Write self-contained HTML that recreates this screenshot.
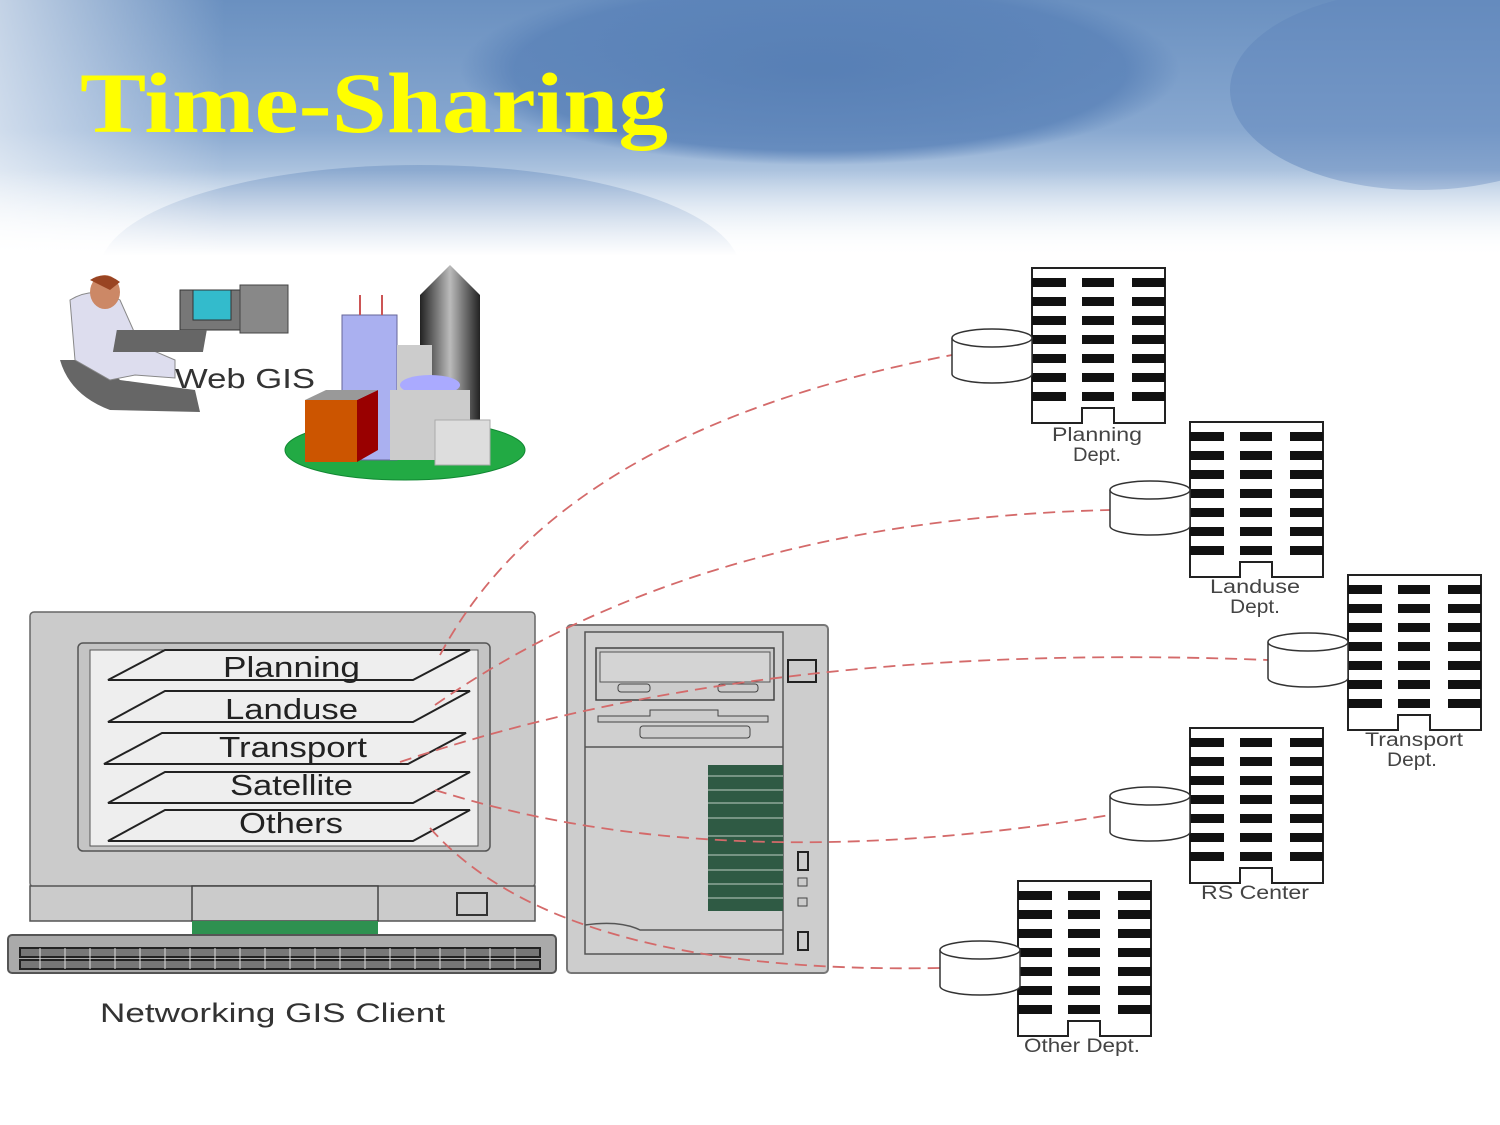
<!DOCTYPE html>
<html><head><meta charset="utf-8"><style>
html,body{margin:0;padding:0;width:1500px;height:1125px;overflow:hidden;background:#fff}
svg{display:block}
</style></head><body>
<svg width="1500" height="1125" viewBox="0 0 1500 1125" xmlns="http://www.w3.org/2000/svg">
<defs>
<clipPath id="hc"><rect x="0" y="0" width="1500" height="255"/></clipPath>
<linearGradient id="hdr" x1="0" y1="0" x2="0" y2="1">
<stop offset="0" stop-color="#6a90c0"/><stop offset="0.5" stop-color="#88a8d0"/><stop offset="0.78" stop-color="#c8d8ea"/><stop offset="1" stop-color="#ffffff"/>
</linearGradient>
<linearGradient id="fade" x1="0" y1="0" x2="0" y2="1">
<stop offset="0" stop-color="#fff" stop-opacity="0"/><stop offset="1" stop-color="#fff" stop-opacity="1"/>
</linearGradient>
<linearGradient id="hl" x1="0" y1="0" x2="1" y2="0">
<stop offset="0" stop-color="#fff" stop-opacity="0.6"/><stop offset="0.15" stop-color="#fff" stop-opacity="0"/>
</linearGradient>
<radialGradient id="blob" cx="0.5" cy="0.5" r="0.5">
<stop offset="0" stop-color="#4f78b0"/><stop offset="0.85" stop-color="#5a82b8"/><stop offset="1" stop-color="#5a82b8" stop-opacity="0"/>
</radialGradient>
<linearGradient id="tower" x1="0" y1="0" x2="1" y2="0">
<stop offset="0" stop-color="#222"/><stop offset="0.5" stop-color="#bbb"/><stop offset="1" stop-color="#222"/>
</linearGradient>
<g id="bld">
<rect x="0" y="0" width="133" height="155" fill="#fff" stroke="#222" stroke-width="2"/>
<g fill="#111">
<rect x="0" y="10" width="34" height="9"/><rect x="50" y="10" width="32" height="9"/><rect x="100" y="10" width="33" height="9"/>
<rect x="0" y="29" width="34" height="9"/><rect x="50" y="29" width="32" height="9"/><rect x="100" y="29" width="33" height="9"/>
<rect x="0" y="48" width="34" height="9"/><rect x="50" y="48" width="32" height="9"/><rect x="100" y="48" width="33" height="9"/>
<rect x="0" y="67" width="34" height="9"/><rect x="50" y="67" width="32" height="9"/><rect x="100" y="67" width="33" height="9"/>
<rect x="0" y="86" width="34" height="9"/><rect x="50" y="86" width="32" height="9"/><rect x="100" y="86" width="33" height="9"/>
<rect x="0" y="105" width="34" height="9"/><rect x="50" y="105" width="32" height="9"/><rect x="100" y="105" width="33" height="9"/>
<rect x="0" y="124" width="34" height="9"/><rect x="50" y="124" width="32" height="9"/><rect x="100" y="124" width="33" height="9"/>
</g>
<path d="M50 155 V140 H82 V155" fill="#fff" stroke="#222" stroke-width="2"/>
<line x1="51" y1="155" x2="81" y2="155" stroke="#fff" stroke-width="3"/>
</g>
<g id="cyl">
<path d="M0 10 V46 A40 9 0 0 0 80 46 V10" fill="#fff" stroke="#333" stroke-width="1.5"/>
<ellipse cx="40" cy="10" rx="40" ry="9" fill="#fff" stroke="#333" stroke-width="1.5"/>
</g>
</defs>

<!-- header -->
<g clip-path="url(#hc)">
<rect x="0" y="0" width="1500" height="260" fill="url(#hdr)"/>
<ellipse cx="820" cy="70" rx="360" ry="95" fill="url(#blob)" opacity="0.8"/>
<ellipse cx="1420" cy="90" rx="190" ry="100" fill="#5f86bb" opacity="0.5"/>
<ellipse cx="420" cy="270" rx="320" ry="105" fill="#6e92c2" opacity="0.5"/>
<rect x="0" y="0" width="1500" height="260" fill="url(#hl)"/>
<rect x="0" y="170" width="1500" height="86" fill="url(#fade)"/>
</g>
<text x="80" y="132" font-family="Liberation Serif, serif" font-weight="bold" font-size="86" fill="#ffff00" textLength="588" lengthAdjust="spacingAndGlyphs">Time-Sharing</text>

<!-- Web GIS clip art -->
<path d="M60 360 Q70 395 110 410 L200 412 L195 390 L120 380 L100 360 Z" fill="#666"/>
<path d="M70 300 Q95 285 120 300 L140 345 L175 360 L175 378 L135 375 L110 380 L75 360 Z" fill="#dde" stroke="#888"/>
<ellipse cx="105" cy="292" rx="15" ry="17" fill="#c86"/>
<path d="M90 280 Q105 270 120 282 L110 290 Z" fill="#942"/>
<rect x="180" y="290" width="60" height="40" fill="#777" stroke="#333"/>
<rect x="193" y="290" width="38" height="30" fill="#3bc" stroke="#333"/>
<rect x="240" y="285" width="48" height="48" fill="#888" stroke="#444"/>
<rect x="175" y="330" width="90" height="22" fill="#666" transform="skewX(-10)"/>
<text x="175" y="388" font-family="Liberation Sans, sans-serif" font-size="28" fill="#333" textLength="140" lengthAdjust="spacingAndGlyphs">Web GIS</text>
<ellipse cx="405" cy="450" rx="120" ry="30" fill="#2a4" stroke="#183"/>
<path d="M420 295 L450 265 L480 295 V420 H420 Z" fill="url(#tower)"/>
<rect x="342" y="315" width="55" height="145" fill="#aab0f0" stroke="#669"/>
<line x1="360" y1="295" x2="360" y2="315" stroke="#c55" stroke-width="2"/><line x1="382" y1="295" x2="382" y2="315" stroke="#c55" stroke-width="2"/>
<rect x="397" y="345" width="35" height="110" fill="#ccc"/>
<ellipse cx="430" cy="385" rx="30" ry="10" fill="#aaf"/>
<rect x="390" y="390" width="80" height="70" fill="#ccc"/>
<rect x="435" y="420" width="55" height="45" fill="#ddd" stroke="#aaa"/>
<rect x="305" y="400" width="52" height="62" fill="#c50"/>
<path d="M357 400 L378 390 V450 L357 462 Z" fill="#900"/>
<path d="M305 400 L326 390 L378 390 L357 400 Z" fill="#999"/>

<!-- monitor -->
<rect x="30" y="612" width="505" height="275" rx="4" fill="#cbcbcb" stroke="#666" stroke-width="1.5"/>
<rect x="78" y="643" width="412" height="208" rx="5" fill="#c4c4c4" stroke="#555" stroke-width="1.5"/>
<rect x="90" y="650" width="388" height="196" fill="#eeeeee" stroke="#555"/>
<g fill="#eee" stroke="#222" stroke-width="2">
<polygon points="108,680 165,650 470,650 413,680"/>
<polygon points="108,722 165,691 470,691 413,722"/>
<polygon points="104,764 162,733 466,733 408,764"/>
<polygon points="108,803 165,772 470,772 413,803"/>
<polygon points="108,841 165,810 470,810 413,841"/>
</g>
<g font-family="Liberation Sans, sans-serif" font-size="29" fill="#222">
<text x="223" y="677" textLength="137" lengthAdjust="spacingAndGlyphs">Planning</text>
<text x="225" y="719" textLength="133" lengthAdjust="spacingAndGlyphs">Landuse</text>
<text x="219" y="757" textLength="148" lengthAdjust="spacingAndGlyphs">Transport</text>
<text x="230" y="795" textLength="123" lengthAdjust="spacingAndGlyphs">Satellite</text>
<text x="239" y="833" textLength="104" lengthAdjust="spacingAndGlyphs">Others</text>
</g>
<rect x="30" y="886" width="505" height="35" fill="#cbcbcb" stroke="#555" stroke-width="1.5"/>
<rect x="192" y="886" width="186" height="35" fill="#cbcbcb" stroke="#444" stroke-width="1.5"/>
<rect x="192" y="921" width="186" height="14" fill="#2e9150"/>
<rect x="457" y="893" width="30" height="22" fill="#ccc" stroke="#333" stroke-width="2"/>
<rect x="8" y="935" width="548" height="38" rx="4" fill="#aaa" stroke="#555" stroke-width="2"/>
<g fill="#777" stroke="#222" stroke-width="2">
<rect x="20" y="948" width="520" height="9"/><rect x="20" y="960" width="520" height="9"/>
</g>
<g stroke="#ddd" stroke-width="1">
<path d="M40 948v21M65 948v21M90 948v21M115 948v21M140 948v21M165 948v21M190 948v21M215 948v21M240 948v21M265 948v21M290 948v21M315 948v21M340 948v21M365 948v21M390 948v21M415 948v21M440 948v21M465 948v21M490 948v21M515 948v21"/>
</g>
<text x="100" y="1022" font-family="Liberation Sans, sans-serif" font-size="27" fill="#333" textLength="345" lengthAdjust="spacingAndGlyphs">Networking GIS Client</text>

<!-- tower PC -->
<rect x="567" y="625" width="261" height="348" rx="4" fill="#cdcdcd" stroke="#777" stroke-width="2"/>
<rect x="585" y="632" width="198" height="322" fill="#d0d0d0" stroke="#555" stroke-width="1.5"/>
<line x1="585" y1="747" x2="783" y2="747" stroke="#555" stroke-width="1.5"/>
<rect x="596" y="648" width="178" height="52" fill="#ccc" stroke="#444" stroke-width="1.5"/>
<rect x="600" y="652" width="170" height="30" fill="#d4d4d4" stroke="#555"/>
<rect x="618" y="684" width="32" height="8" rx="3" fill="#ccc" stroke="#444"/>
<rect x="718" y="684" width="40" height="8" rx="3" fill="#ccc" stroke="#444"/>
<path d="M598 716 H650 V710 H718 V716 H768 V722 H598 Z" fill="#ccc" stroke="#444"/>
<rect x="640" y="726" width="110" height="12" rx="3" fill="#ccc" stroke="#444"/>
<rect x="708" y="765" width="75" height="146" fill="#2f5a44"/>
<g stroke="#bfcfc4" stroke-width="1"><path d="M708 776h75M708 790h75M708 803h75M708 818h75M708 836h75M708 855h75M708 870h75M708 884h75M708 898h75"/></g>
<path d="M585 925 Q620 920 640 930 H783" fill="none" stroke="#555" stroke-width="1.5"/>
<rect x="788" y="660" width="28" height="22" fill="#ccc" stroke="#222" stroke-width="2"/>
<rect x="798" y="852" width="10" height="18" fill="#ccc" stroke="#222" stroke-width="2"/>
<rect x="798" y="878" width="9" height="8" fill="#ccc" stroke="#444"/>
<rect x="798" y="898" width="9" height="8" fill="#ccc" stroke="#444"/>
<rect x="798" y="932" width="10" height="18" fill="#ccc" stroke="#222" stroke-width="2"/>

<!-- connectors -->
<g fill="none" stroke="#d46a6a" stroke-width="1.8" stroke-dasharray="12,7">
<path d="M440 655 Q560 430 952 355"/>
<path d="M435 705 Q700 520 1110 510"/>
<path d="M400 762 Q760 640 1268 660"/>
<path d="M435 790 Q720 880 1110 815"/>
<path d="M430 828 Q560 975 940 968"/>
</g>

<!-- buildings -->
<use href="#bld" x="1032" y="268"/><use href="#cyl" x="952" y="328"/>
<use href="#bld" x="1190" y="422"/><use href="#cyl" x="1110" y="480"/>
<use href="#bld" x="1348" y="575"/><use href="#cyl" x="1268" y="632"/>
<use href="#bld" x="1190" y="728"/><use href="#cyl" x="1110" y="786"/>
<use href="#bld" x="1018" y="881"/><use href="#cyl" x="940" y="940"/>
<g font-family="Liberation Sans, sans-serif" font-size="19" fill="#444">
<text x="1052" y="441" textLength="90" lengthAdjust="spacingAndGlyphs">Planning</text><text x="1073" y="461" textLength="48" lengthAdjust="spacingAndGlyphs">Dept.</text>
<text x="1210" y="593" textLength="90" lengthAdjust="spacingAndGlyphs">Landuse</text><text x="1230" y="613" textLength="50" lengthAdjust="spacingAndGlyphs">Dept.</text>
<text x="1365" y="746" textLength="98" lengthAdjust="spacingAndGlyphs">Transport</text><text x="1387" y="766" textLength="50" lengthAdjust="spacingAndGlyphs">Dept.</text>
<text x="1201" y="899" textLength="108" lengthAdjust="spacingAndGlyphs">RS Center</text>
<text x="1024" y="1052" textLength="116" lengthAdjust="spacingAndGlyphs">Other Dept.</text>
</g>
</svg>
</body></html>
